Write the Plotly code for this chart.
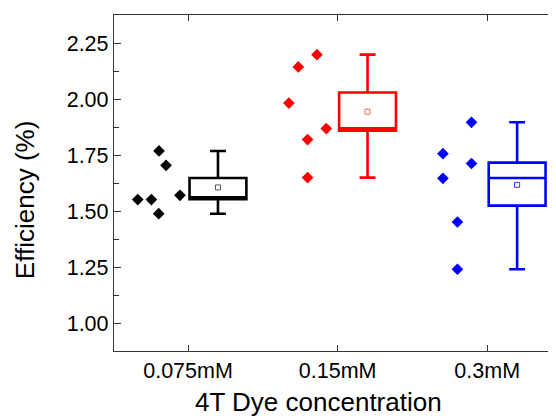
import numpy as np
import plotly.graph_objects as go

# ---- data ----
categories = ["0.075mM", "0.15mM", "0.3mM"]
eff_0075 = [1.768, 1.704, 1.551, 1.551, 1.570, 1.488]
eff_015 = [2.198, 2.143, 1.982, 1.868, 1.819, 1.649]
eff_03 = [1.896, 1.756, 1.712, 1.646, 1.451, 1.240]
jit_0075 = [-0.194, -0.147, -0.336, -0.245, -0.054, -0.196]
jit_015 = [-0.138, -0.263, -0.326, -0.076, -0.201, -0.201]
jit_03 = [-0.105, -0.296, -0.105, -0.296, -0.199, -0.199]
q1_vals = [1.553, 1.859, 1.524]
median_vals = [1.561, 1.869, 1.647]
q3_vals = [1.647, 2.029, 1.716]
colors = ["#000000", "#FF0000", "#0000FF"]
mean_colors = ["#555555", "#F06060", "#3030FF"]

series = [eff_0075, eff_015, eff_03]
jitters = [jit_0075, jit_015, jit_03]

fig = go.Figure()
box_offset = 0.2
for i, (vals, jit) in enumerate(zip(series, jitters)):
    pos = i + 1
    fig.add_trace(go.Scatter(
        x=[pos + j for j in jit], y=vals, mode="markers",
        marker=dict(symbol="diamond", size=9, color=colors[i]),
        showlegend=False, hoverinfo="y"))
    fig.add_trace(go.Box(
        x=[pos + box_offset], q1=[q1_vals[i]], median=[median_vals[i]],
        q3=[q3_vals[i]], lowerfence=[min(vals)], upperfence=[max(vals)],
        width=0.38, whiskerwidth=0.28, boxpoints=False,
        line=dict(color=colors[i], width=2.6), fillcolor="rgba(255,255,255,0)",
        showlegend=False))
    fig.add_trace(go.Scatter(
        x=[pos + box_offset], y=[float(np.mean(vals))], mode="markers",
        marker=dict(symbol="square-open", size=5, color=mean_colors[i],
                    line=dict(width=1, color=mean_colors[i])),
        showlegend=False))

axis_font = dict(family="Liberation Sans, Arial, sans-serif", size=21.5, color="#000")
fig.update_layout(
    width=556, height=410,
    margin=dict(l=106, r=2, t=7, b=67, pad=0),
    paper_bgcolor="white", plot_bgcolor="white",
    font=dict(family="Liberation Sans, Arial, sans-serif", color="#000"),
    xaxis=dict(range=[0.505, 3.5], tickvals=[1, 2, 3], ticktext=categories,
               ticks="inside", ticklen=6, tickcolor="#333", showline=True,
               linecolor="#333", linewidth=1.3, mirror="ticks", showgrid=False,
               zeroline=False, tickfont=axis_font, automargin=False),
    yaxis=dict(range=[0.875, 2.375], tickvals=[1.0, 1.25, 1.5, 1.75, 2.0, 2.25],
               ticktext=["1.00", "1.25", "1.50", "1.75", "2.00", "2.25"],
               ticks="inside", ticklen=7, tickcolor="#333", showline=True,
               linecolor="#333", linewidth=1.3, mirror="ticks", showgrid=False,
               zeroline=False, tickfont=axis_font, automargin=False,
               minor=dict(dtick=0.125, tick0=0.875, ticks="inside", ticklen=5,
                          tickcolor="#333", showgrid=False)),
    annotations=[
        dict(text="4T Dye concentration", xref="paper", yref="paper",
             x=0.4638 * 442 / 448, y=-0.153, xanchor="center", yanchor="middle",
             showarrow=False,
             font=dict(family="Liberation Sans, Arial, sans-serif", size=26, color="#000")),
        dict(text="Efficiency (%)", xref="paper", yref="paper",
             x=-89 / 448, y=0.449, xanchor="center", yanchor="middle",
             textangle=-90, showarrow=False,
             font=dict(family="Liberation Sans, Arial, sans-serif", size=26, color="#000")),
    ],
)
fig.write_html("out.html")
